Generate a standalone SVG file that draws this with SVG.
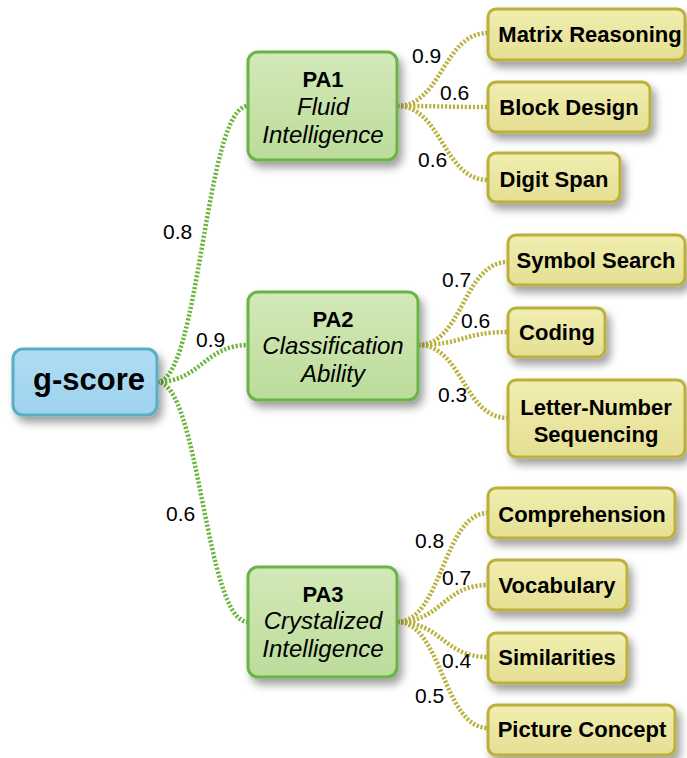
<svg xmlns="http://www.w3.org/2000/svg" width="687" height="758" viewBox="0 0 687 758">
<defs>
<filter id="sh" x="-20%" y="-20%" width="150%" height="160%">
<feDropShadow dx="4" dy="6" stdDeviation="4" flood-color="#000" flood-opacity="0.38"/>
</filter>
<linearGradient id="gGreen" x1="0" y1="0" x2="0" y2="1">
<stop offset="0" stop-color="#d3e9b8"/><stop offset="1" stop-color="#bcdc9a"/>
</linearGradient>
<linearGradient id="gBlue" x1="0" y1="0" x2="0" y2="1">
<stop offset="0" stop-color="#b0ddf4"/><stop offset="1" stop-color="#9dd2ee"/>
</linearGradient>
<linearGradient id="gYellow" x1="0" y1="0" x2="0" y2="1">
<stop offset="0" stop-color="#f1eeb0"/><stop offset="1" stop-color="#e4df92"/>
</linearGradient>
<style>
.root{fill:url(#gBlue);stroke:#5aaec4;stroke-width:3;filter:url(#sh)}
.pa{fill:url(#gGreen);stroke:#6ab446;stroke-width:3;filter:url(#sh)}
.leaf{fill:url(#gYellow);stroke:#bcb03c;stroke-width:3;filter:url(#sh)}
.cg{fill:none;stroke:#6db63f;stroke-width:4.5;stroke-dasharray:2.2 1.8}
.cy{fill:none;stroke:#b9b23e;stroke-width:4.5;stroke-dasharray:2.2 1.8}
text{font-family:"Liberation Sans",Arial,sans-serif;fill:#000}
.t-root{font-size:31px;font-weight:bold;text-anchor:middle}
.t-pa{font-size:22px;font-weight:bold;text-anchor:middle}
.t-pai{font-size:24px;font-style:italic;text-anchor:middle}
.t-leaf{font-size:22px;font-weight:bold;text-anchor:middle}
.t-w{font-size:21px}
</style>
</defs>
<g id="connectors">
<path class="cg" d="M157,382 C200,382 205,106 248,106"/>
<path class="cg" d="M157,382 C200,382 205,345 248,345"/>
<path class="cg" d="M157,382 C200,382 205,622 248,622"/>
<path class="cy" d="M397,106 C442,106 443,33 488,33"/>
<path class="cy" d="M397,106 C442,106 443,107 488,107"/>
<path class="cy" d="M397,106 C442,106 443,180 488,180"/>
<path class="cy" d="M418,345 C463,345 463,262 508,262"/>
<path class="cy" d="M418,345 C463,345 463,332 508,332"/>
<path class="cy" d="M418,345 C463,345 463,418 508,418"/>
<path class="cy" d="M397,622 C442,622 443,513 488,513"/>
<path class="cy" d="M397,622 C442,622 443,585 488,585"/>
<path class="cy" d="M397,622 C442,622 443,657 488,657"/>
<path class="cy" d="M397,622 C442,622 443,728 488,728"/>
<text class="t-w" x="163" y="239">0.8</text>
<text class="t-w" x="196" y="347">0.9</text>
<text class="t-w" x="166" y="521">0.6</text>
<text class="t-w" x="412" y="63">0.9</text>
<text class="t-w" x="440" y="100">0.6</text>
<text class="t-w" x="418" y="167">0.6</text>
<text class="t-w" x="442" y="287">0.7</text>
<text class="t-w" x="461" y="328">0.6</text>
<text class="t-w" x="438" y="402">0.3</text>
<text class="t-w" x="415" y="548">0.8</text>
<text class="t-w" x="442" y="585">0.7</text>
<text class="t-w" x="442" y="668">0.4</text>
<text class="t-w" x="415" y="703">0.5</text>
</g>
<g id="g-score">
<rect class="root" x="13" y="349" width="144" height="66" rx="10"/>
<text class="t-root" x="89" y="390">g-score</text>
</g>
<g id="pa1">
<rect class="pa" x="248" y="52" width="149" height="108" rx="10"/>
<text class="t-pa" x="323" y="87">PA1</text>
<text class="t-pai" x="323" y="115">Fluid</text>
<text class="t-pai" x="323" y="143">Intelligence</text>
</g>
<g id="pa2">
<rect class="pa" x="248" y="292" width="170" height="108" rx="10"/>
<text class="t-pa" x="333" y="327">PA2</text>
<text class="t-pai" x="333" y="354">Classification</text>
<text class="t-pai" x="333" y="382">Ability</text>
</g>
<g id="pa3">
<rect class="pa" x="248" y="567" width="149" height="110" rx="10"/>
<text class="t-pa" x="323" y="602">PA3</text>
<text class="t-pai" x="323" y="629">Crystalized</text>
<text class="t-pai" x="323" y="657">Intelligence</text>
</g>
<g id="matrix-reasoning">
<rect class="leaf" x="488" y="9" width="197" height="51" rx="8"/>
<text class="t-leaf" x="590" y="42">Matrix Reasoning</text>
</g>
<g id="block-design">
<rect class="leaf" x="488" y="82" width="162" height="50" rx="8"/>
<text class="t-leaf" x="569" y="115">Block Design</text>
</g>
<g id="digit-span">
<rect class="leaf" x="488" y="153" width="132" height="49" rx="8"/>
<text class="t-leaf" x="554" y="187">Digit Span</text>
</g>
<g id="symbol-search">
<rect class="leaf" x="508" y="235" width="177" height="50" rx="8"/>
<text class="t-leaf" x="596" y="268">Symbol Search</text>
</g>
<g id="coding">
<rect class="leaf" x="508" y="308" width="97" height="49" rx="8"/>
<text class="t-leaf" x="557" y="340">Coding</text>
</g>
<g id="letter-number">
<rect class="leaf" x="508" y="380" width="177" height="77" rx="8"/>
<text class="t-leaf" x="596" y="415">Letter-Number</text>
<text class="t-leaf" x="596" y="442">Sequencing</text>
</g>
<g id="comprehension">
<rect class="leaf" x="488" y="488" width="187" height="50" rx="8"/>
<text class="t-leaf" x="582" y="522">Comprehension</text>
</g>
<g id="vocabulary">
<rect class="leaf" x="488" y="560" width="139" height="50" rx="8"/>
<text class="t-leaf" x="557" y="593">Vocabulary</text>
</g>
<g id="similarities">
<rect class="leaf" x="488" y="633" width="139" height="50" rx="8"/>
<text class="t-leaf" x="557" y="665">Similarities</text>
</g>
<g id="picture-concept">
<rect class="leaf" x="488" y="705" width="187" height="50" rx="8"/>
<text class="t-leaf" x="582" y="737">Picture Concept</text>
</g>
</svg>
